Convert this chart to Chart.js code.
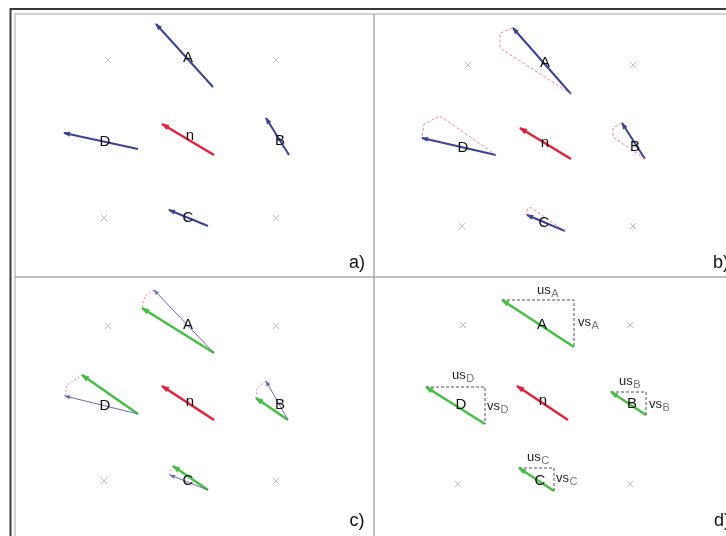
<!DOCTYPE html>
<html>
<head>
<meta charset="utf-8">
<style>
  html, body { margin: 0; padding: 0; background: #fff; }
  #wrap { width: 726px; height: 536px; }
</style>
<script src="https://cdn.jsdelivr.net/npm/chart.js@4/dist/chart.umd.min.js"></script>
</head>
<body>
<div id="wrap"><canvas id="c" width="726" height="536"></canvas></div>
<script>
// Diagram space: x 0..726, y 0..536 (y grows downward).

// Grid reference positions (grey crosses), four per panel
const gridMarks = [
  [108, 60], [276, 60], [104, 218], [276, 218],
  [468, 65], [633, 65], [462, 226], [633, 226],
  [108, 326], [276, 326], [104, 481], [276, 481],
  [463, 325], [630, 325], [458, 484], [630, 484]
];

// Panel a) – measured vectors, [tail, head]
const vecA_a = [[213, 87], [156, 24]];
const vecB_a = [[289, 155], [266, 118]];
const vecC_a = [[208, 226], [169, 210]];
const vecD_a = [[138, 149], [64, 133]];
const vecN_a = [[214, 155], [162, 124]];

// Panel b) – same vectors with the rotation wedge
const vecA_b = [[571, 94], [513, 28]];
const vecB_b = [[645, 159], [622, 123]];
const vecC_b = [[565, 231], [527, 215]];
const vecD_b = [[496, 155], [422, 138]];
const vecN_b = [[571, 159], [520, 128]];
const wedgeA_b = [[571, 94], [500, 48], [500, 33], [513, 28]];
const wedgeB_b = [[645, 159], [613, 137], [613, 128], [622, 123]];
const wedgeC_b = [[565, 231], [530, 207], [527, 210], [527, 215]];
const wedgeD_b = [[496, 155], [440, 116], [424, 124], [422, 138]];

// Panel c) – original (thin) and rotated (green) vectors
const vecA_c = [[214, 353], [154, 290]];
const vecB_c = [[288, 420], [266, 381]];
const vecC_c = [[208, 490], [170, 475]];
const vecD_c = [[138, 414], [65, 396]];
const rotA_c = [[214, 353], [142, 308]];
const rotB_c = [[288, 420], [256, 398]];
const rotC_c = [[208, 490], [173, 466]];
const rotD_c = [[138, 414], [82, 375]];
const vecN_c = [[214, 420], [162, 386]];
const arcA_c = [[154, 290], [145, 296], [142, 308]];
const arcB_c = [[266, 381], [257, 388], [256, 398]];
const arcC_c = [[170, 475], [170, 470], [173, 466]];
const arcD_c = [[65, 396], [67, 385], [82, 375]];

// Panel d) – rotated vectors with their u/v components
const rotA_d = [[574, 347], [502, 300]];
const rotB_d = [[646, 415], [611, 392]];
const rotC_d = [[554, 491], [519, 468]];
const rotD_d = [[485, 424], [426, 387]];
const vecN_d = [[568, 420], [517, 386]];
const compA_d = [[502, 300], [574, 300], [574, 347]];
const compB_d = [[611, 392], [646, 392], [646, 415]];
const compC_d = [[519, 468], [554, 468], [554, 491]];
const compD_d = [[426, 387], [485, 387], [485, 424]];

// Point names and their positions
const pointNames = ['A', 'B', 'C', 'D', 'n'];
const namePos_a = [[188, 58], [280, 141], [188, 218], [105, 142], [190, 136]];
const namePos_b = [[545, 63], [635, 147], [544, 223], [463, 148], [545, 143]];
const namePos_c = [[188, 325], [280, 405], [188, 481], [105, 406], [190, 402]];
const namePos_d = [[542, 325], [632, 404], [540, 481], [461, 405], [543, 401]];

// Panel captions
const panelTags = ['a)', 'b)', 'c)', 'd)'];
const panelTagPos = [[357, 263], [721, 263], [357, 521], [722, 521]];

// Component labels in panel d): [main, subscript, x, y]
const compLabels = [
  ['us', 'A', 537, 290], ['vs', 'A', 578, 322],
  ['us', 'B', 619, 381], ['vs', 'B', 649, 404],
  ['us', 'C', 527, 457], ['vs', 'C', 556, 478],
  ['us', 'D', 452, 375], ['vs', 'D', 487, 406]
];

// Frame: outer dark rule, inner light rule, panel dividers
const frameDark = [[[10.5, 537], [10.5, 9], [727, 9]]];
const frameLight = [[[15, 537], [15, 14], [727, 14]]];
const dividers = [[[374, 14], [374, 537]], [[15, 277], [727, 277]]];

const BLUE = '#3d418e';
const BLUE_THIN = '#6c6ca8';
const RED = '#e2213c';
const GREEN = '#46c043';
const PINK = '#ec8a98';
const DASH_GREY = '#555';

const pts = a => a.map(([x, y]) => ({ x, y }));

function arrow(seg, color, width, head) {
  return { data: pts([seg[0], seg[1]]), showLine: true, borderColor: color,
           backgroundColor: color, borderWidth: width, pointRadius: 0, arrow: head };
}
function dashed(path, color, width, dash) {
  return { data: pts(path), showLine: true, borderColor: color, borderWidth: width,
           borderDash: dash, pointRadius: 0 };
}

const datasets = [
  { data: pts(gridMarks), pointStyle: 'crossRot', pointRadius: 4.5,
    borderColor: '#c2c2c2', borderWidth: 1, showLine: false },
  // b) wedges
  dashed(wedgeA_b, PINK, 1, [3, 2]), dashed(wedgeB_b, PINK, 1, [3, 2]),
  dashed(wedgeC_b, PINK, 1, [3, 2]), dashed(wedgeD_b, PINK, 1, [3, 2]),
  // c) rotation arcs
  dashed(arcA_c, PINK, 1, [2, 2]), dashed(arcB_c, PINK, 1, [2, 2]),
  dashed(arcC_c, PINK, 1, [2, 2]), dashed(arcD_c, PINK, 1, [2, 2]),
  // d) components
  dashed(compA_d, DASH_GREY, 1, [3, 2]), dashed(compB_d, DASH_GREY, 1, [3, 2]),
  dashed(compC_d, DASH_GREY, 1, [3, 2]), dashed(compD_d, DASH_GREY, 1, [3, 2]),
  // a)
  arrow(vecA_a, BLUE, 2, 6), arrow(vecB_a, BLUE, 2, 6), arrow(vecC_a, BLUE, 2, 6),
  arrow(vecD_a, BLUE, 2, 6), arrow(vecN_a, RED, 2.5, 7),
  // b)
  arrow(vecA_b, BLUE, 2, 6), arrow(vecB_b, BLUE, 2, 6), arrow(vecC_b, BLUE, 2, 6),
  arrow(vecD_b, BLUE, 2, 6), arrow(vecN_b, RED, 2.5, 7),
  // c)
  arrow(vecA_c, BLUE_THIN, 1, 5), arrow(vecB_c, BLUE_THIN, 1, 5),
  arrow(vecC_c, BLUE_THIN, 1, 5), arrow(vecD_c, BLUE_THIN, 1, 5),
  arrow(rotA_c, GREEN, 2.5, 7), arrow(rotB_c, GREEN, 2.5, 7),
  arrow(rotC_c, GREEN, 2.5, 7), arrow(rotD_c, GREEN, 2.5, 7),
  arrow(vecN_c, RED, 2.5, 7),
  // d)
  arrow(rotA_d, GREEN, 2.5, 7), arrow(rotB_d, GREEN, 2.5, 7),
  arrow(rotC_d, GREEN, 2.5, 7), arrow(rotD_d, GREEN, 2.5, 7),
  arrow(vecN_d, RED, 2.5, 7)
];

const FONT = '"Liberation Sans", Arial, sans-serif';

const diagramDecor = {
  id: 'diagramDecor',
  beforeDraw(chart) {
    const ctx = chart.ctx;
    ctx.save();
    ctx.fillStyle = '#fff';
    ctx.fillRect(0, 0, chart.width, chart.height);
    ctx.restore();
  },
  beforeDatasetsDraw(chart) {
    const { ctx, scales: { x, y } } = chart;
    const stroke = (paths, color, w) => {
      ctx.save();
      ctx.strokeStyle = color; ctx.lineWidth = w;
      paths.forEach(p => {
        ctx.beginPath();
        p.forEach(([px, py], i) => {
          const X = x.getPixelForValue(px), Y = y.getPixelForValue(py);
          i ? ctx.lineTo(X, Y) : ctx.moveTo(X, Y);
        });
        ctx.stroke();
      });
      ctx.restore();
    };
    stroke(frameDark, '#3a3a3a', 2);
    stroke(frameLight, '#c4c4c4', 1.5);
    stroke(dividers, '#a8a8a8', 1.5);
  },
  afterDatasetsDraw(chart) {
    const { ctx, scales: { x, y } } = chart;
    // arrow heads
    chart.data.datasets.forEach((ds, i) => {
      if (!ds.arrow) return;
      const el = chart.getDatasetMeta(i).data;
      const p = el[el.length - 1], q = el[el.length - 2];
      const a = Math.atan2(p.y - q.y, p.x - q.x);
      const L = ds.arrow, W = L * 0.42;
      ctx.save();
      ctx.fillStyle = ds.borderColor;
      ctx.translate(p.x, p.y);
      ctx.rotate(a);
      ctx.beginPath();
      ctx.moveTo(1, 0);
      ctx.lineTo(-L, W);
      ctx.lineTo(-L, -W);
      ctx.closePath();
      ctx.fill();
      ctx.restore();
    });
    // point names
    ctx.save();
    ctx.fillStyle = '#111';
    ctx.textAlign = 'center';
    ctx.textBaseline = 'middle';
    ctx.font = '15px ' + FONT;
    [namePos_a, namePos_b, namePos_c, namePos_d].forEach(list => {
      list.forEach(([px, py], k) => {
        ctx.fillText(pointNames[k], x.getPixelForValue(px), y.getPixelForValue(py));
      });
    });
    // panel captions
    ctx.font = '18px ' + FONT;
    panelTags.forEach((t, k) => {
      const [px, py] = panelTagPos[k];
      ctx.fillText(t, x.getPixelForValue(px), y.getPixelForValue(py));
    });
    // component labels
    ctx.textAlign = 'left';
    compLabels.forEach(([main, sub, px, py]) => {
      const X = x.getPixelForValue(px), Y = y.getPixelForValue(py);
      ctx.font = '13px ' + FONT;
      ctx.fillStyle = '#222';
      ctx.fillText(main, X, Y);
      const w = ctx.measureText(main).width;
      ctx.font = '11px ' + FONT;
      ctx.fillStyle = '#777';
      ctx.fillText(sub, X + w + 0.5, Y + 4);
    });
    ctx.restore();
  }
};

new Chart(document.getElementById('c'), {
  type: 'scatter',
  data: { datasets },
  options: {
    responsive: false,
    animation: false,
    devicePixelRatio: 1,
    layout: { padding: 0, autoPadding: false },
    plugins: { legend: { display: false }, tooltip: { enabled: false } },
    scales: {
      x: { type: 'linear', min: 0, max: 726, display: false },
      y: { type: 'linear', min: 0, max: 536, reverse: true, display: false }
    }
  },
  plugins: [diagramDecor]
});
</script>
</body>
</html>
